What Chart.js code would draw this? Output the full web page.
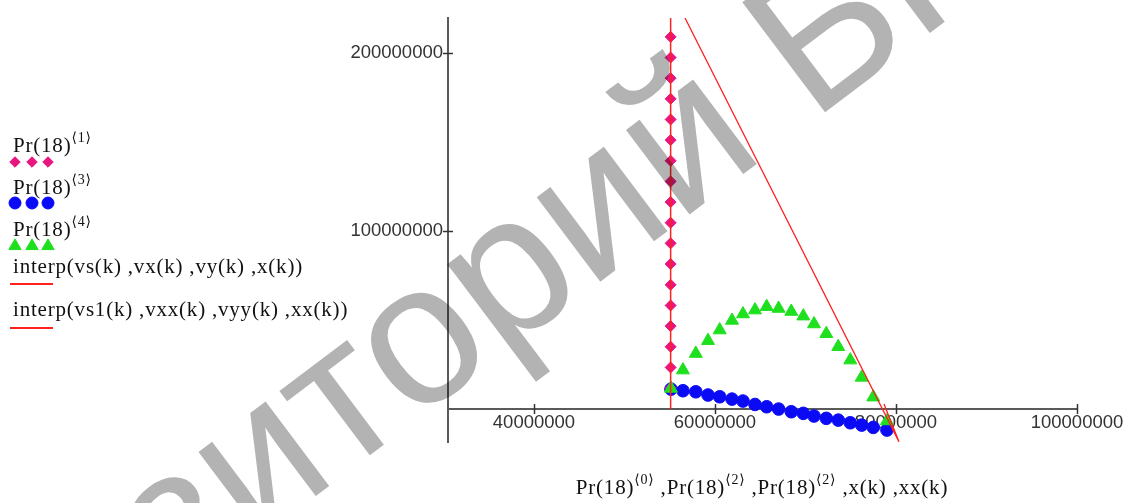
<!DOCTYPE html>
<html>
<head>
<meta charset="utf-8">
<title>Pr(18)</title>
<script src="https://cdn.jsdelivr.net/npm/chart.js@4.4.0/dist/chart.umd.min.js"></script>
<style>
	html, body { margin: 0; padding: 0; background: #fff; }
	#wrap { width: 1126px; height: 503px; position: relative; }
</style>
</head>
<body>
<div id="wrap"><canvas id="prChart"></canvas></div>
<script>
// Pr(18) columns 0 and 1 (magenta diamonds)
const pr0 = [55100000, 55100000, 55100000, 55100000, 55100000, 55100000, 55100000, 55100000, 55100000,
	55100000, 55100000, 55100000, 55100000, 55100000, 55100000, 55100000, 55100000, 55100000];
const pr1 = [11800000, 23400000, 35000000, 46600000, 58200000, 69800000, 81500000, 93100000, 104700000,
	116300000, 127900000, 139500000, 151100000, 162700000, 174300000, 185900000, 197500000, 209100000];

// Pr(18) column 2 is the x for columns 3 (blue) and 4 (green)
const pr2 = [55140000, 56460000, 57880000, 59230000, 60520000, 61880000, 63090000, 64420000, 65710000, 67030000,
	68430000, 69760000, 70940000, 72300000, 73620000, 74950000, 76210000, 77490000, 79000000];
const pr3 = [11200000, 10300000, 9700000, 7900000, 6900000, 5600000, 4500000, 2600000, 1300000, 0,
	-1500000, -2400000, -3900000, -5200000, -6200000, -7700000, -9000000, -10300000, -11800000];
const pr4 = [11600000, 21900000, 31200000, 38400000, 44400000, 49800000, 53400000, 55600000, 57500000, 56500000,
	54800000, 52200000, 47800000, 42300000, 35000000, 27500000, 17800000, 6700000, -6700000];

// interpolated curves (red)
const xk = [55100000, 55100000];
const interp1 = [0, 219700000];
const xxk = [56690000, 80330000, 78670000];
const interp2 = [219700000, -18400000, 2800000];

// axes
const xTicks = [40000000, 60000000, 80000000, 100000000];
const yTicks = [100000000, 200000000];
const xRange = [30500000, 100000000];
const yRange = [-18500000, 219700000];

const legendNames = ['Pr(18)', 'Pr(18)', 'Pr(18)', 'interp(vs(k) ,vx(k) ,vy(k) ,x(k))', 'interp(vs1(k) ,vxx(k) ,vyy(k) ,xx(k))'];
const legendSups = ['\u27E81\u27E9', '\u27E83\u27E9', '\u27E84\u27E9', '', ''];
const xTitleParts = [['Pr(18)', '\u27E80\u27E9'], [' ,Pr(18)', '\u27E82\u27E9'], [' ,Pr(18)', '\u27E82\u27E9'], [' ,x(k) ,xx(k)', '']];
const watermark = 'Репозиторий БГУ';

function zip(xs, ys) {
	return xs.map((x, i) => ({ x: x, y: ys[i] }));
}

const SERIF = '"Liberation Serif", "DejaVu Serif", serif';

function drawRich(ctx, x, y, parts, size, align) {
	const mainFont = size + 'px ' + SERIF;
	const supFont = Math.round(size * 0.68) + 'px ' + SERIF;
	let total = 0;
	parts.forEach(([t, s]) => {
		ctx.font = mainFont;
		total += ctx.measureText(t).width;
		if (s) {
			ctx.font = supFont;
			total += ctx.measureText(s).width;
		}
	});
	let cx = align === 'center' ? x - total / 2 : x;
	parts.forEach(([t, s]) => {
		ctx.font = mainFont;
		ctx.fillText(t, cx, y);
		cx += ctx.measureText(t).width;
		if (s) {
			ctx.font = supFont;
			ctx.fillText(s, cx, y - size * 0.48);
			cx += ctx.measureText(s).width;
		}
	});
}

const mathcadDecor = {
	id: 'mathcadDecor',
	afterDatasetsDraw(chart) {
		const ctx = chart.ctx;
		const xs = chart.scales.x;
		const ys = chart.scales.y;
		const y0 = ys.getPixelForValue(0);
		const x0 = chart.chartArea.left;

		// tick marks crossing the axes
		ctx.save();
		ctx.strokeStyle = '#333';
		ctx.lineWidth = 1.5;
		xTicks.forEach(v => {
			const px = Math.round(xs.getPixelForValue(v)) + 0.5;
			ctx.beginPath();
			ctx.moveTo(px, y0 - 5);
			ctx.lineTo(px, y0 + 5);
			ctx.stroke();
		});
		yTicks.forEach(v => {
			const py = Math.round(ys.getPixelForValue(v)) + 0.5;
			ctx.beginPath();
			ctx.moveTo(x0 - 5, py);
			ctx.lineTo(x0 + 5, py);
			ctx.stroke();
		});
		ctx.restore();
	},
	afterDraw(chart) {
		const ctx = chart.ctx;
		ctx.save();
		ctx.fillStyle = '#111';
		ctx.textBaseline = 'alphabetic';
		ctx.textAlign = 'left';
		if ('letterSpacing' in ctx) ctx.letterSpacing = '0.8px';

		// legend, Mathcad style: label on one line, sample underneath
		const textY = [152, 194, 236, 273, 316];
		const markY = [162, 203, 246, 284, 328];
		chart.data.datasets.forEach((ds, i) => {
			ctx.fillStyle = '#111';
			drawRich(ctx, 13, textY[i], [[legendNames[i], legendSups[i]]], 21, 'left');
			if (ds.showLine) {
				ctx.strokeStyle = ds.borderColor;
				ctx.lineWidth = 2;
				ctx.beginPath();
				ctx.moveTo(10, markY[i]);
				ctx.lineTo(53, markY[i]);
				ctx.stroke();
			} else {
				ctx.fillStyle = ds.backgroundColor;
				ctx.strokeStyle = ds.borderColor;
				[15, 32, 48].forEach(mx => {
					Chart.helpers.drawPoint(ctx, {
						pointStyle: ds.pointStyle,
						radius: ds.pointRadius * 0.95,
						rotation: 0,
						borderWidth: 1
					}, mx, markY[i]);
				});
			}
		});

		// x-axis title
		ctx.fillStyle = '#111';
		drawRich(ctx, 762, 494, xTitleParts, 21, 'center');
		ctx.restore();

		// watermark over everything, darkening what lies under it
		ctx.save();
		ctx.globalCompositeOperation = 'multiply';
		ctx.fillStyle = '#b3b3b3';
		ctx.font = '200px "Liberation Sans", Arial, sans-serif';
		ctx.textBaseline = 'alphabetic';
		ctx.translate(812, 122);
		ctx.rotate(-37 * Math.PI / 180);
		const off = ctx.measureText('Репозиторий ').width;
		ctx.fillText(watermark, -off, 0);
		ctx.restore();
	}
};

const tickFont = { family: '"Liberation Sans", Arial, sans-serif', size: 18.5 };

const ctx = document.getElementById('prChart').getContext('2d');
const prChart = new Chart(ctx, {
	type: 'scatter',
	data: {
		datasets: [{
			label: 'Pr(18)<1>',
			data: zip(pr0, pr1),
			pointStyle: 'rectRot',
			pointRadius: 5.5,
			backgroundColor: '#e8157e',
			borderColor: '#e8157e',
			borderWidth: 1,
			showLine: false,
			order: 2,
		}, {
			label: 'Pr(18)<3>',
			data: zip(pr2, pr3),
			pointStyle: 'circle',
			pointRadius: 6.3,
			backgroundColor: '#0a0af5',
			borderColor: '#0a0af5',
			borderWidth: 1,
			showLine: false,
			order: 2,
		}, {
			label: 'Pr(18)<4>',
			data: zip(pr2, pr4),
			pointStyle: 'triangle',
			pointRadius: 7.5,
			backgroundColor: '#1fe01f',
			borderColor: '#1fe01f',
			borderWidth: 1,
			showLine: false,
			order: 1,
		}, {
			label: 'interp(vs(k),vx(k),vy(k),x(k))',
			data: zip(xk, interp1),
			showLine: true,
			pointRadius: 0,
			borderColor: '#ff2020',
			backgroundColor: '#ff2020',
			borderWidth: 1.5,
			order: 0,
		}, {
			label: 'interp(vs1(k),vxx(k),vyy(k),xx(k))',
			data: zip(xxk, interp2),
			showLine: true,
			pointRadius: 0,
			borderColor: '#ff2020',
			backgroundColor: '#ff2020',
			borderWidth: 1.3,
			order: 0,
		}],
	},
	options: {
		responsive: true,
		maintainAspectRatio: false,
		animation: false,
		layout: { padding: { left: 338, right: 49, top: 18, bottom: 61 } },
		plugins: {
			legend: { display: false },
			tooltip: { enabled: false },
		},
		scales: {
			x: {
				type: 'linear',
				min: xRange[0],
				max: xRange[1],
				position: { y: 0 },
				afterBuildTicks: (scale) => { scale.ticks = xTicks.map(v => ({ value: v })); },
				afterFit: (scale) => { scale.height = 0; scale.paddingLeft = 0; scale.paddingRight = 0; },
				grid: { drawOnChartArea: false, drawTicks: false },
				border: { display: true, color: '#5a5a5a', width: 2 },
				ticks: { color: '#333', font: tickFont, padding: 3, maxRotation: 0, autoSkip: false, callback: (v) => String(v) },
			},
			y: {
				type: 'linear',
				min: yRange[0],
				max: yRange[1],
				position: 'left',
				afterBuildTicks: (scale) => { scale.ticks = yTicks.map(v => ({ value: v })); },
				afterFit: (scale) => { scale.width = 110; scale.paddingTop = 0; scale.paddingBottom = 0; },
				grid: { drawOnChartArea: false, drawTicks: false },
				border: { display: true, color: '#5a5a5a', width: 2 },
				ticks: { color: '#333', font: tickFont, padding: 5, autoSkip: false, callback: (v) => String(v) },
			},
		},
	},
	plugins: [mathcadDecor],
});
</script>
</body>
</html>
